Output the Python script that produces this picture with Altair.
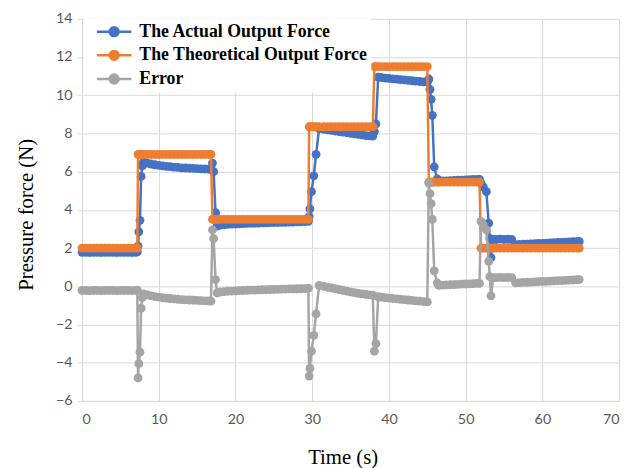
import altair as alt
import pandas as pd

# ---- data ----
time_s = [
    0.0, 0.5, 1.0, 1.5, 2.0, 2.5, 3.0, 3.5, 4.0, 4.5, 5.0, 5.5, 6.0, 6.5, 7.0,
    7.2, 7.3, 7.4, 7.55, 7.7, 7.85, 8.0,
    8.5, 9.0, 9.5, 10.0, 10.5, 11.0, 11.5, 12.0, 12.5, 13.0, 13.5, 14.0, 14.5, 15.0, 15.5, 16.0, 16.5,
    16.8, 17.0, 17.15, 17.4, 17.6,
    18.0, 18.5, 19.0, 19.5, 20.0, 20.5, 21.0, 21.5, 22.0, 22.5, 23.0, 23.5, 24.0, 24.5, 25.0, 25.5,
    26.0, 26.5, 27.0, 27.5, 28.0, 28.5, 29.0, 29.5,
    29.6, 29.7, 29.9, 30.2, 30.5, 30.9,
    31.5, 32.0, 32.5, 33.0, 33.5, 34.0, 34.5, 35.0, 35.5, 36.0, 36.5, 37.0, 37.5,
    37.9, 38.1, 38.3, 38.6,
    39.0, 39.5, 40.0, 40.5, 41.0, 41.5, 42.0, 42.5, 43.0, 43.5, 44.0, 44.5, 45.0,
    45.2, 45.35, 45.5, 45.65, 45.9, 46.3,
    46.5, 47.0, 47.5, 48.0, 48.5, 49.0, 49.5, 50.0, 50.5, 51.0, 51.5,
    51.8, 52.0, 52.3, 52.7, 53.0, 53.15, 53.3, 53.6,
    54.0, 54.5, 55.0, 55.5, 56.0,
    56.5, 57.0, 57.5, 58.0, 58.5, 59.0, 59.5, 60.0, 60.5, 61.0, 61.5, 62.0, 62.5, 63.0, 63.5, 64.0, 64.5, 64.8,
]

actual_force = [
    1.78, 1.78, 1.77, 1.78, 1.78, 1.77, 1.78, 1.78, 1.78, 1.77, 1.78, 1.78, 1.78, 1.77, 1.78,
    1.8, 2.1, 2.85, 3.45, 5.75, 6.3, 6.5,
    6.45, 6.4, 6.36, 6.33, 6.3, 6.28, 6.26, 6.24, 6.22, 6.2, 6.19, 6.18, 6.17, 6.16, 6.15, 6.14, 6.13,
    6.12, 6.45, 6.0, 3.85, 3.15,
    3.2, 3.22, 3.24, 3.25, 3.26, 3.27, 3.28, 3.29, 3.3, 3.3, 3.31, 3.32, 3.32, 3.33, 3.34, 3.34,
    3.35, 3.35, 3.36, 3.36, 3.37, 3.37, 3.38, 3.4,
    3.65, 4.05, 4.95, 5.78, 6.9, 8.25,
    8.22, 8.19, 8.16, 8.13, 8.1, 8.07, 8.04, 8.01, 7.98, 7.95, 7.92, 7.89, 7.87,
    7.86, 8.1, 8.5, 10.95,
    10.93, 10.9, 10.88, 10.86, 10.84, 10.82, 10.8, 10.78, 10.76, 10.74, 10.72, 10.7, 10.68,
    10.85, 10.3, 9.78, 8.95, 6.25, 5.62,
    5.5, 5.51, 5.52, 5.53, 5.54, 5.55, 5.56, 5.57, 5.58, 5.59, 5.6,
    5.6, 5.4, 5.2, 4.95, 3.3, 2.5, 1.5, 2.45,
    2.45, 2.47, 2.45, 2.46, 2.45,
    2.18, 2.19, 2.2, 2.21, 2.22, 2.23, 2.24, 2.25, 2.26, 2.27, 2.28, 2.29, 2.3, 2.31, 2.32, 2.33, 2.34, 2.35,
]

theoretical_force = [
    2.0, 2.0, 2.0, 2.0, 2.0, 2.0, 2.0, 2.0, 2.0, 2.0, 2.0, 2.0, 2.0, 2.0, 2.0,
    2.0, 6.9, 6.9, 6.9, 6.9, 6.9, 6.9,
    6.9, 6.9, 6.9, 6.9, 6.9, 6.9, 6.9, 6.9, 6.9, 6.9, 6.9, 6.9, 6.9, 6.9, 6.9, 6.9, 6.9,
    6.9, 3.5, 3.5, 3.5, 3.5,
    3.5, 3.5, 3.5, 3.5, 3.5, 3.5, 3.5, 3.5, 3.5, 3.5, 3.5, 3.5, 3.5, 3.5, 3.5, 3.5,
    3.5, 3.5, 3.5, 3.5, 3.5, 3.5, 3.5, 3.5,
    8.35, 8.35, 8.35, 8.35, 8.35, 8.35,
    8.35, 8.35, 8.35, 8.35, 8.35, 8.35, 8.35, 8.35, 8.35, 8.35, 8.35, 8.35, 8.35,
    8.35, 11.5, 11.5, 11.5,
    11.5, 11.5, 11.5, 11.5, 11.5, 11.5, 11.5, 11.5, 11.5, 11.5, 11.5, 11.5, 11.5,
    5.45, 5.45, 5.45, 5.45, 5.45, 5.45,
    5.45, 5.45, 5.45, 5.45, 5.45, 5.45, 5.45, 5.45, 5.45, 5.45, 5.45,
    5.45, 2.0, 2.0, 2.0, 2.0, 2.0, 2.0, 2.0,
    2.0, 2.0, 2.0, 2.0, 2.0,
    2.0, 2.0, 2.0, 2.0, 2.0, 2.0, 2.0, 2.0, 2.0, 2.0, 2.0, 2.0, 2.0, 2.0, 2.0, 2.0, 2.0, 2.0,
]

error_force = [
    -0.22, -0.22, -0.23, -0.22, -0.22, -0.23, -0.22, -0.22, -0.22, -0.23, -0.22, -0.22, -0.22, -0.23, -0.22,
    -0.2, -4.8, -4.05, -3.45, -1.15, -0.6, -0.4,
    -0.45, -0.5, -0.54, -0.57, -0.6, -0.62, -0.64, -0.66, -0.68, -0.7, -0.71, -0.72, -0.73, -0.74, -0.75, -0.76, -0.77,
    -0.78, 2.95, 2.5, 0.35, -0.35,
    -0.3, -0.28, -0.26, -0.25, -0.24, -0.23, -0.22, -0.21, -0.2, -0.2, -0.19, -0.18, -0.18, -0.17, -0.16, -0.16,
    -0.15, -0.15, -0.14, -0.14, -0.13, -0.13, -0.12, -0.1,
    -4.7, -4.3, -3.4, -2.57, -1.45, 0.05,
    0.0, -0.05, -0.09, -0.13, -0.17, -0.21, -0.25, -0.29, -0.33, -0.37, -0.4, -0.43, -0.45,
    -0.47, -3.4, -3.0, -0.55,
    -0.57, -0.6, -0.62, -0.64, -0.66, -0.68, -0.7, -0.72, -0.74, -0.76, -0.78, -0.8, -0.82,
    5.4, 4.85, 4.33, 3.5, 0.8, 0.17,
    0.05, 0.06, 0.07, 0.08, 0.09, 0.1, 0.11, 0.12, 0.13, 0.14, 0.15,
    0.15, 3.4, 3.2, 2.95, 1.3, 0.5, -0.5, 0.45,
    0.45, 0.47, 0.45, 0.46, 0.45,
    0.18, 0.19, 0.2, 0.21, 0.22, 0.23, 0.24, 0.25, 0.26, 0.27, 0.28, 0.29, 0.3, 0.31, 0.32, 0.33, 0.34, 0.35,
]

series_names = ["The Actual Output Force", "The Theoretical Output Force", "Error"]
series_colors = ["#4472C4", "#ED7D31", "#A5A5A5"]
x_ticks = [0, 10, 20, 30, 40, 50, 60, 70]
y_ticks = [-6, -4, -2, 0, 2, 4, 6, 8, 10, 12, 14]

assert len(time_s) == len(actual_force) == len(theoretical_force) == len(error_force), (
    len(time_s), len(actual_force), len(theoretical_force), len(error_force))

rows = []
for name, vals in zip(series_names, [actual_force, theoretical_force, error_force]):
    for t, v in zip(time_s, vals):
        rows.append({"t": t, "v": v, "s": name})
df = pd.DataFrame(rows)

# legend glyph: a short line with a dot in its middle (Excel style)
legend_symbol = "M0,0L7,0M2.6,0A0.9,0.9,0,1,1,4.4,0A0.9,0.9,0,1,1,2.6,0Z"

color = alt.Color(
    "s:N",
    scale=alt.Scale(domain=series_names, range=series_colors),
    legend=alt.Legend(
        title=None,
        orient="none",
        legendX=2,
        legendY=0,
        symbolType=legend_symbol,
        symbolSize=100,
        symbolStrokeWidth=2.5,
        labelFont="Liberation Serif",
        labelFontWeight="bold",
        labelFontSize=18,
        labelColor="black",
        labelOffset=34,
        fillColor="white",
        padding=4,
        rowPadding=4,
        labelLimit=400,
    ),
)

x_enc = alt.X(
    "t:Q",
    scale=alt.Scale(domain=[0, 70], nice=False),
    axis=alt.Axis(
        values=x_ticks,
        title="Time (s)",
        ticks=False,
        labelPadding=12,
        titleX=264,
        titleY=63,
        titleBaseline="alphabetic",
    ),
)
y_enc = alt.Y(
    "v:Q",
    scale=alt.Scale(domain=[-6, 14], nice=False),
    axis=alt.Axis(
        values=y_ticks,
        title="Pressure force (N)",
        tickSize=5,
        labelPadding=5,
        titleX=-56,
        titleY=198,
        titleAngle=-90,
        titleAlign="center",
        titleBaseline="middle",
    ),
)

layers = []
for name in series_names:
    sub = alt.Chart(df).transform_filter(alt.datum.s == name)
    line = sub.mark_line(strokeWidth=2.5).encode(x=x_enc, y=y_enc, color=color)
    pts = sub.mark_point(filled=True, size=80, opacity=1).encode(x=x_enc, y=y_enc, color=color)
    layers += [line, pts]

chart = (
    alt.layer(*layers)
    .properties(
        width=544,
        height=387,
        autosize=alt.AutoSizeParams(type="none"),
        padding={"left": 75, "top": 8, "right": 9, "bottom": 65},
    )
    .configure_view(stroke=None)
    .configure_axis(
        grid=True,
        gridColor="#D9D9D9",
        gridWidth=1,
        domainColor="#D9D9D9",
        domainWidth=1,
        tickColor="#D9D9D9",
        labelFont="Lato",
        labelFontSize=14.5,
        labelColor="#595959",
        titleFont="Liberation Serif",
        titleFontSize=21,
        titleFontWeight="normal",
        titleColor="black",
    )
)

chart.save("out.html", embed_options={"renderer": "svg", "actions": False})
